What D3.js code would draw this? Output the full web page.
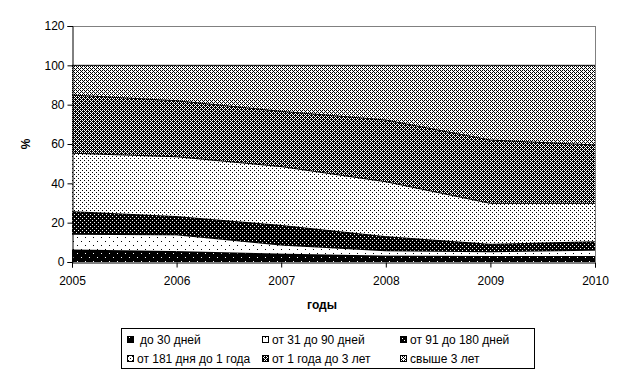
<!DOCTYPE html>
<html><head><meta charset="utf-8">
<script src="https://cdn.jsdelivr.net/npm/d3@7"></script>
<style>body{margin:0;background:#fff}svg{display:block}text{font-family:"Liberation Sans",Arial,sans-serif}</style>
</head><body><svg id="c" width="627" height="382"></svg>
<script>
const years = [2005, 2006, 2007, 2008, 2009, 2010];
const seriesNames = ["до 30 дней", "от 31 до 90 дней", "от 91 до 180 дней", "от 181 дня до 1 года", "от 1 года до 3 лет", "свыше 3 лет"];
const upTo30 = [6.1, 5.3, 4.0, 3.0, 2.8, 2.8];
const d31to90 = [8.0, 8.5, 4.6, 2.7, 2.4, 3.2];
const d91to180 = [11.5, 9.3, 10.0, 7.2, 3.8, 4.3];
const d181to1y = [29.7, 30.4, 29.9, 27.9, 20.8, 19.5];
const y1to3 = [29.6, 28.5, 28.1, 31.4, 32.2, 29.7];
const over3 = [15.1, 18.0, 23.4, 27.8, 38.0, 40.5];
const yTicks = [0, 20, 40, 60, 80, 100, 120];

const seriesValues = [upTo30, d31to90, d91to180, d181to1y, y1to3, over3];
const table = years.map((yr, i) => {
  const o = {year: yr};
  seriesNames.forEach((n, k) => o[n] = seriesValues[k][i]);
  return o;
});

const svg = d3.select("#c");
const L = 72, R = 595, T = 26, B = 262;
const x = d3.scaleLinear().domain([2005, 2010]).range([L, R]);
const y = d3.scaleLinear().domain([0, 120]).range([B, T]);

// patterns
const defs = svg.append("defs");
function pat(id, size, bg, fg, pts) {
  const p = defs.append("pattern").attr("id", id).attr("patternUnits", "userSpaceOnUse")
    .attr("width", size).attr("height", size);
  p.append("rect").attr("width", size).attr("height", size).attr("fill", bg);
  pts.forEach(([a, b]) => p.append("rect").attr("x", a).attr("y", b).attr("width", 1).attr("height", 1).attr("fill", fg).attr("shape-rendering", "crispEdges"));
}
pat("p0", 8, "#000", "#fff", [[1, 1], [5, 5]]);
pat("p1", 8, "#fff", "#000", [[1, 1], [5, 5]]);
pat("p2", 4, "#000", "#fff", [[0, 0], [2, 2]]);
pat("p3", 4, "#fff", "#000", [[0, 0], [2, 2]]);
pat("p4", 4, "#000", "#fff", [[0, 0], [2, 0], [3, 1], [0, 2], [2, 2], [1, 3]]);
pat("p5", 4, "#fff", "#000", [[0, 0], [2, 0], [3, 1], [0, 2], [2, 2], [1, 3]]);

const stack = d3.stack().keys(seriesNames);
const layers = stack(table);

const area = d3.area().x(d => x(d.data.year)).y0(d => y(d[0])).y1(d => y(d[1]));
const line = d3.line().x(d => x(d.data.year)).y(d => y(d[1]));

// plot border (gray)
svg.append("line").attr("x1", L).attr("x2", R).attr("y1", T + 0.5).attr("y2", T + 0.5).attr("stroke", "#808080");
svg.append("line").attr("x1", R + 0.5).attr("x2", R + 0.5).attr("y1", T).attr("y2", B).attr("stroke", "#808080");

const g = svg.append("g");
layers.forEach((ly, k) => {
  g.append("path").attr("d", area(ly)).attr("fill", `url(#p${k})`).attr("shape-rendering", "crispEdges");
});
layers.forEach((ly, k) => {
  g.append("path").attr("d", line(ly)).attr("fill", "none").attr("stroke", "#000").attr("stroke-width", 1);
});

// axes
const yAxis = d3.axisLeft(y).tickValues(yTicks).tickSize(5).tickPadding(3);
const ya = svg.append("g").attr("transform", `translate(${L + 0.5},0)`).call(yAxis);
const xAxis = d3.axisBottom(x).tickValues(years).tickFormat(d3.format("d")).tickSize(5).tickPadding(9);
const xa = svg.append("g").attr("transform", `translate(0,${B + 0.5})`).call(xAxis);
[ya, xa].forEach(a => {
  a.select(".domain").attr("stroke", "#000");
  a.selectAll(".tick line").attr("stroke", "#000");
  a.selectAll("text").attr("font-size", 12).attr("fill", "#000").style("font-family", '"Liberation Sans",Arial,sans-serif');
});

svg.append("text").attr("x", 322).attr("y", 309).attr("text-anchor", "middle")
  .attr("font-size", 12).attr("font-weight", "bold").text("годы");
svg.append("text").attr("transform", "translate(30,144) rotate(-90)").attr("text-anchor", "middle")
  .attr("font-size", 12).attr("font-weight", "bold").text("%");

// legend
const lg = svg.append("g");
lg.append("rect").attr("x", 121.5).attr("y", 328.5).attr("width", 413).attr("height", 40)
  .attr("fill", "#fff").attr("stroke", "#000");
const colX = [127, 262, 400];
const rowY = [340, 359];
seriesNames.forEach((n, k) => {
  const cx = colX[k % 3], cy = rowY[Math.floor(k / 3)];
  lg.append("rect").attr("x", cx + 0.5).attr("y", cy - 3.5).attr("width", 6).attr("height", 6)
    .attr("fill", `url(#p${k})`).attr("stroke", "#000");
  lg.append("text").attr("x", cx + (k === 0 ? 13 : 10)).attr("y", cy + 4).attr("font-size", 12).text(n);
});
</script></body></html>
